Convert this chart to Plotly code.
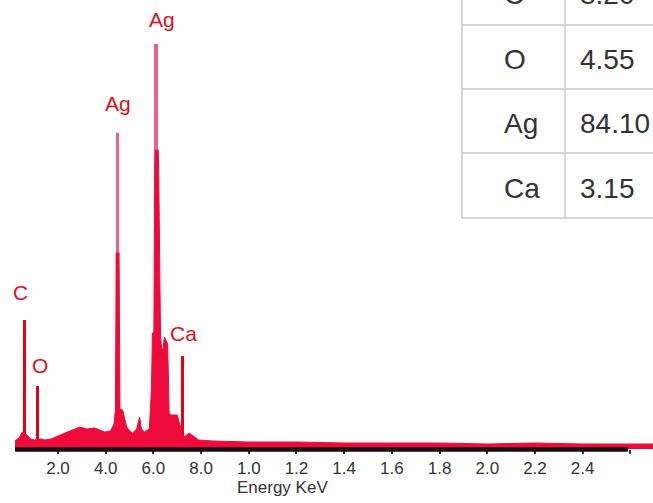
import plotly.graph_objects as go

# ---------------- data ----------------
energy = [0.20, 0.40, 0.50, 0.70, 0.85, 1.00, 1.30, 1.46, 1.70, 2.08, 2.50, 2.92, 3.20, 3.54,
          3.80, 3.96, 4.20, 4.35, 4.41, 4.44, 4.56, 4.60, 4.71, 4.80, 4.88, 5.00, 5.13, 5.30,
          5.42, 5.50, 5.63, 5.83, 5.92, 5.96, 6.02, 6.06, 6.08, 6.20, 6.22, 6.30, 6.35, 6.40,
          6.46, 6.60, 6.66, 6.75, 7.00, 7.10, 7.29, 7.50, 7.71, 7.90, 8.50, 10.0, 12.0, 14.0,
          16.0, 18.0, 20.0, 22.0, 24.0, 26.0, 27.0]
counts = [8, 12, 17, 14, 10, 9, 10, 9, 10, 14, 18, 22, 20, 21,
          19, 17, 18, 25, 40, 196, 196, 40, 39, 28, 22, 18, 16, 20,
          32, 20, 17, 20, 60, 116, 116, 282, 299, 299, 282, 112, 100, 99,
          112, 105, 36, 34, 34, 25, 12, 16, 12, 9, 8, 7, 7, 6,
          6, 6, 5, 6, 5, 5, 5]

peak_elements = ["C", "O", "Ag", "Ag", "Ca"]
peak_energy = [0.583, 1.154, 4.50, 6.125, 7.208]
peak_height = [129, 63, 316, 405, 93]

tick_values = [2, 4, 6, 8, 10, 12, 14, 16, 18, 20, 22, 24, 26]
tick_labels = ["2.0", "4.0", "6.0", "8.0", "1.0", "1.2", "1.4", "1.6", "1.8", "2.0", "2.2", "2.4", ""]

table_elements = ["C", "O", "Ag", "Ca"]
table_values = ["8.20", "4.55", "84.10", "3.15"]

# ---------------- layout helpers ----------------
W, H = 653, 503
ML, MR, MT, MB = 15, 0, 0, 54
PW, PH = W - ML - MR, H - MT - MB


def xp(px):
    return (px - ML) / PW


def yp(py):
    return (H - MB - py) / PH


FONT = "Liberation Sans, Arial, sans-serif"
RED = "#ee0a3a"
LINE_RED = "#e3001b"
PINK = "#f0608a"
LABEL_RED = "#dd1020"

fig = go.Figure()

# thin peak lines
peak_colors = [LINE_RED, LINE_RED, PINK, PINK, LINE_RED]
peak_widths = [0.12, 0.12, 0.15, 0.17, 0.12]
fig.add_trace(go.Bar(x=peak_energy, y=peak_height, width=peak_widths,
                     marker=dict(color=peak_colors, line=dict(width=0)),
                     showlegend=False, hoverinfo="skip"))

# spectrum
fig.add_trace(go.Scatter(x=energy, y=counts, mode="lines", fill="tozeroy",
                         line=dict(color=RED, width=1), fillcolor=RED,
                         showlegend=False, hoverinfo="skip"))

annotations = []
shifts = [(-4, 28), (2, 21), (0, 30), (6, 25), (1, 23)]
for el, e, h, (dx, dy) in zip(peak_elements, peak_energy, peak_height, shifts):
    annotations.append(dict(x=e, y=h, xref="x", yref="y", text=el, showarrow=False,
                            xshift=dx, yshift=dy, xanchor="center", yanchor="middle",
                            font=dict(family=FONT, size=21, color=LABEL_RED)))

# axis title
annotations.append(dict(x=xp(282), y=yp(487), xref="paper", yref="paper", text="Energy KeV",
                        showarrow=False, xanchor="center", yanchor="middle",
                        font=dict(family=FONT, size=17, color="#333333")))

shapes = []
# x axis line (thick black)
shapes.append(dict(type="line", xref="x", yref="paper", x0=0.197, x1=25.9, y0=yp(449.5), y1=yp(449.5),
                   line=dict(color="#111111", width=4.5), layer="above"))

# table
row_lines = [25, 89, 153, 218]
top = -39
tl, tm, tr = 462, 565, 670
shapes.append(dict(type="rect", xref="paper", yref="paper", x0=xp(tl), x1=xp(tr), y0=yp(row_lines[-1]),
                   y1=yp(top), fillcolor="white", line=dict(width=0), layer="below"))
for ry in row_lines:
    shapes.append(dict(type="line", xref="paper", yref="paper", x0=xp(tl), x1=xp(tr), y0=yp(ry), y1=yp(ry),
                       line=dict(color="#c8c8c8", width=1.5)))
for vx in [tl, tm]:
    shapes.append(dict(type="line", xref="paper", yref="paper", x0=xp(vx), x1=xp(vx), y0=yp(top),
                       y1=yp(row_lines[-1]), line=dict(color="#c8c8c8", width=1.5)))

row_tops = [top] + row_lines[:-1]
for i, (el, val, rt, rb) in enumerate(zip(table_elements, table_values, row_tops, row_lines)):
    cy = (rt + rb) / 2 + 3 + (-2 if i == 0 else 0)
    annotations.append(dict(x=xp(502), y=yp(cy), xref="paper", yref="paper", text=el, showarrow=False,
                            xanchor="left", yanchor="middle",
                            font=dict(family=FONT, size=28, color="#333333")))
    annotations.append(dict(x=xp(578), y=yp(cy), xref="paper", yref="paper", text=val, showarrow=False,
                            xanchor="left", yanchor="middle",
                            font=dict(family=FONT, size=28, color="#333333")))

fig.update_layout(
    width=W, height=H,
    margin=dict(l=ML, r=MR, t=MT, b=MB, pad=0),
    paper_bgcolor="white", plot_bgcolor="white",
    bargap=0,
    annotations=annotations,
    shapes=shapes,
    xaxis=dict(range=[0.197, 26.95], showline=False, showgrid=False, zeroline=False,
               tickvals=tick_values, ticktext=tick_labels, ticks="outside", ticklen=4,
               tickwidth=1.5, tickcolor="#333333",
               tickfont=dict(family=FONT, size=17, color="#333333")),
    yaxis=dict(range=[0, PH], visible=False, fixedrange=True),
)

fig.write_html("out.html", config={"displayModeBar": False},
               post_script="document.body.style.margin='0';document.body.style.overflow='hidden';")
